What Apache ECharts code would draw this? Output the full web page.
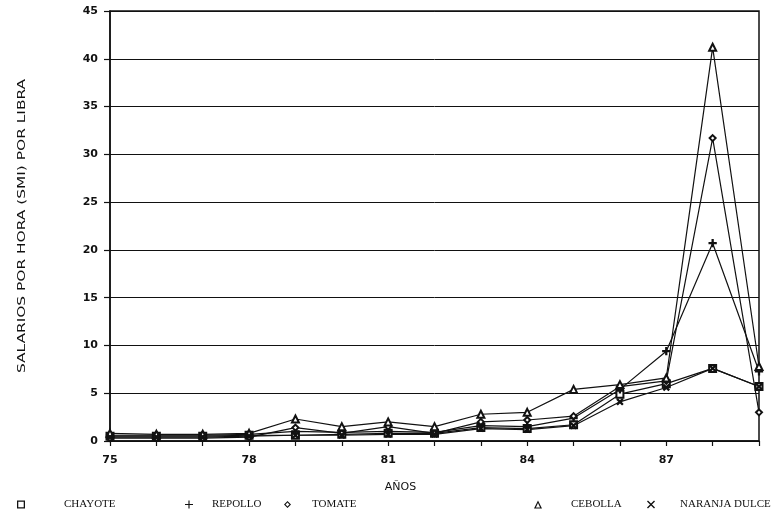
<!DOCTYPE html>
<html>
<head>
<meta charset="utf-8">
<script src="https://cdn.jsdelivr.net/npm/echarts@6/dist/echarts.min.js"></script>
<style>
html,body{margin:0;padding:0;background:#fff;}
#c{width:777px;height:516px;}
</style>
</head>
<body>
<div id="c"></div>
<script>
// ---- data ----
const years = [75,76,77,78,79,80,81,82,83,84,85,86,87,88,89];
const chayote = [0.5,0.5,0.5,0.6,0.6,0.7,0.8,0.8,1.4,1.3,1.7,4.9,6.0,7.6,5.7];
const repollo = [0.6,0.6,0.6,0.7,1.0,0.9,1.0,0.9,1.6,1.5,2.4,5.4,9.4,20.7,7.3];
const tomate = [0.3,0.3,0.3,0.4,1.4,0.8,1.5,0.8,2.0,2.2,2.6,5.7,6.3,31.7,3.0];
const cebolla = [0.8,0.7,0.7,0.8,2.3,1.5,2.0,1.5,2.8,3.0,5.4,5.9,6.6,41.2,7.8];
const naranja = [0.4,0.4,0.4,0.5,0.6,0.6,0.7,0.7,1.3,1.2,1.6,4.1,5.6,7.6,5.7];
const yTicks = [0,5,10,15,20,25,30,35,40,45];
const xLabelYears = [75,78,81,84,87];
const seriesNames = ['CHAYOTE','REPOLLO','TOMATE','CEBOLLA','NARANJA DULCE'];

const PLUS = 'path://M4.3,0H5.7V4.3H10V5.7H5.7V10H4.3V5.7H0V4.3H4.3Z';
const symbols = ['emptyRect', PLUS, 'emptyDiamond', 'emptyTriangle', PLUS];
const rotates = [0,0,0,0,45];
const dataSets = [chayote, repollo, tomate, cebolla, naranja];

const font = 'DejaVu Sans';
const chart = echarts.init(document.getElementById('c'));

const series = seriesNames.map((n,i)=>({
  name:n, type:'line',
  data: years.map((y,k)=>[y, dataSets[i][k]]),
  symbol: symbols[i], symbolSize: i===2?6:7, symbolRotate: rotates[i],
  showAllSymbol:true,
  lineStyle:{color:'#111', width:1.2},
  itemStyle:{color:'#111', borderColor:'#111', borderWidth:1.3},
  emphasis:{disabled:true},
  z: 3
}));

const legendPos = [
  {left:12, gap:34},
  {left:180, gap:14},
  {left:279, gap:16},
  {left:529, gap:24},
  {left:642, gap:20}
];
const legendIcons = [
  'path://M0,0H10V10H0ZM1.6,1.6V8.4H8.4V1.6Z',
  PLUS,
  'path://M5,0L10,5L5,10L0,5ZM5,2.2L2.2,5L5,7.8L7.8,5Z',
  'path://M5,0L10,10H0ZM5,3L2.4,8.6H7.6Z',
  'path://M0,1.2L1.2,0L5,3.8L8.8,0L10,1.2L6.2,5L10,8.8L8.8,10L5,6.2L1.2,10L0,8.8L3.8,5Z'
];
const legends = seriesNames.map((n,i)=>({
  data:[{name:n, icon:legendIcons[i]}],
  left: legendPos[i].left, top: 494,
  itemWidth: i===2?7:8, itemHeight: i===2?7:8,
  selectedMode:false,
  itemStyle:{color:'#111', borderWidth:0},
  lineStyle:{width:0},
  textStyle:{fontFamily:'Liberation Serif', fontSize:11, color:'#111', padding:[0,0,0,legendPos[i].gap]}
}));

chart.setOption({
  backgroundColor:'#fff',
  animation:false,
  title:{
    text:'PRECIOS EN SMI DE FRUTAS Y HORTALIZAS',
    left:'center', top:-13,
    textStyle:{fontFamily:font, fontSize:11, fontWeight:'normal', color:'#333'}
  },
  graphic:[{
    type:'text', x:22, y:226, rotation:Math.PI/2,
    scaleX:1.4, scaleY:1,
    style:{text:'SALARIOS POR HORA (SMI) POR LIBRA', fontFamily:font, fontSize:11, fill:'#111',
      align:'center', verticalAlign:'middle'}
  }],
  grid:{left:110, right:18, top:11, bottom:75, show:true, borderColor:'#111', borderWidth:1.5, backgroundColor:'transparent'},
  legend: legends,
  xAxis:{
    type:'value', min:75, max:89, interval:1,
    name:'AÑOS', nameLocation:'middle', nameGap:41,
    nameTextStyle:{fontFamily:font, fontSize:11, color:'#111', padding:[0,68,0,0]},
    axisLine:{lineStyle:{color:'#111', width:1.5}},
    axisTick:{show:true, length:5, lineStyle:{color:'#111', width:1.2}},
    splitLine:{show:false},
    axisLabel:{
      margin:14, fontFamily:font, fontSize:11, fontWeight:'bold', color:'#111',
      formatter:v=> xLabelYears.indexOf(v)>=0 ? String(v) : ''
    }
  },
  yAxis:{
    type:'value', min:0, max:45, interval:5,
    axisLine:{show:true, lineStyle:{color:'#111', width:1.5}},
    axisTick:{show:true, length:6, lineStyle:{color:'#111', width:1.2}},
    splitLine:{show:true, lineStyle:{color:'#111', width:1}},
    axisLabel:{
      margin:12, fontFamily:font, fontSize:11, fontWeight:'bold', color:'#111',
      formatter:v=> yTicks.indexOf(v)>=0 ? String(v) : ''
    }
  },
  series: series
});
</script>
</body>
</html>
